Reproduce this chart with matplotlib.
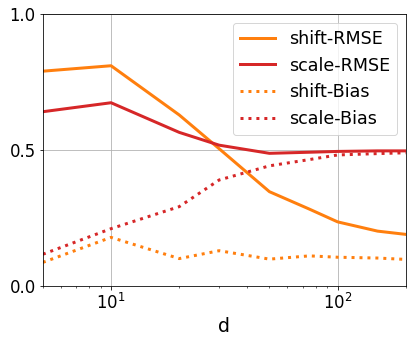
import matplotlib
matplotlib.use('Agg')
import matplotlib.pyplot as plt

d = [5, 10, 20, 30, 50, 75, 100, 150, 200]
shift_rmse = [0.790, 0.810, 0.629, 0.505, 0.347, 0.283, 0.236, 0.202, 0.190]
scale_rmse = [0.641, 0.674, 0.565, 0.518, 0.488, 0.492, 0.495, 0.497, 0.497]
shift_bias = [0.087, 0.179, 0.101, 0.130, 0.099, 0.111, 0.106, 0.103, 0.098]
scale_bias = [0.117, 0.211, 0.292, 0.390, 0.442, 0.465, 0.482, 0.487, 0.490]

plt.rcParams['font.size'] = 16.5
fig = plt.figure(figsize=(412 / 72, 343 / 72), dpi=72)
ax = fig.add_axes([0.104, 0.166, 0.881, 0.793])
ax.plot(d, shift_rmse, color='tab:orange', lw=3, label='shift-RMSE')
ax.plot(d, scale_rmse, color='tab:red', lw=3, label='scale-RMSE')
ax.plot(d, shift_bias, color='tab:orange', lw=3, ls=':', label='shift-Bias')
ax.plot(d, scale_bias, color='tab:red', lw=3, ls=':', label='scale-Bias')
ax.set_xscale('log')
ax.set_xlim(5, 200)
ax.set_ylim(0, 1)
ax.set_yticks([0, 0.5, 1.0])
ax.grid(True)
ax.set_xlabel('d', fontsize=19)
ax.legend(loc='upper right', fontsize=17.5)
fig.savefig('out.png', dpi=72)
